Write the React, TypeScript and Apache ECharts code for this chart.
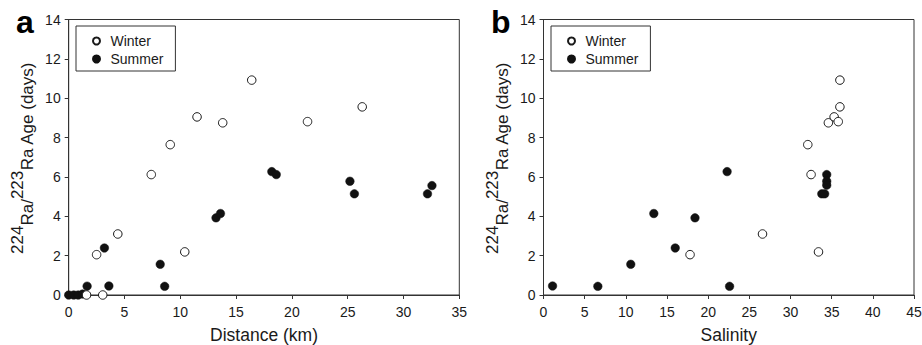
import React, { useEffect, useRef } from "react";
import * as echarts from "echarts";

// Panel a: distance (km) vs age (days)
const winterDistA = [1.6, 3.05, 2.5, 4.4, 7.4, 9.1, 10.4, 11.5, 13.8, 16.4, 21.4, 26.3];
const winterAgeA = [0, 0, 2.05, 3.1, 6.12, 7.64, 2.19, 9.05, 8.75, 10.92, 8.81, 9.56];
const summerDistA = [0, 0.45, 0.85, 1.25, 1.65, 3.2, 3.6, 8.2, 8.6, 13.2, 13.6, 18.2, 18.6, 25.2, 25.6, 32.15, 32.55];
const summerAgeA = [0, 0, 0, 0.05, 0.45, 2.39, 0.46, 1.56, 0.44, 3.92, 4.14, 6.27, 6.12, 5.78, 5.14, 5.14, 5.56];

// Panel b: salinity vs age (days)
const winterSalB = [17.8, 26.6, 32.1, 32.5, 33.4, 34.6, 35.3, 35.8, 36.0, 36.0];
const winterAgeB = [2.05, 3.1, 7.64, 6.12, 2.19, 8.75, 9.05, 8.81, 9.56, 10.92];
const summerSalB = [1.1, 6.6, 10.6, 13.4, 16.0, 18.4, 22.3, 22.6, 33.8, 34.15, 34.4, 34.4, 34.4];
const summerAgeB = [0.46, 0.44, 1.56, 4.14, 2.39, 3.92, 6.27, 0.44, 5.14, 5.14, 6.12, 5.78, 5.58];

const yTicksMax = 14;
const xMaxA = 35;
const xMaxB = 45;

const FONT = "'Liberation Sans', Arial, sans-serif";
const TXT = "#1a1a1a";
const LINE = "#333";

const pairs = (xs: number[], ys: number[]) => xs.map((x, i) => [x, ys[i]]);

export default function App() {
  const ref = useRef<HTMLDivElement>(null);
  useEffect(() => {
    if (!ref.current) return;
    const chart = echarts.init(ref.current, undefined, { renderer: "svg" });
    const axisCommon = {
      axisLine: { show: true, lineStyle: { color: LINE, width: 1 } },
      axisTick: { show: true, inside: false, length: 4, lineStyle: { color: LINE } },
      splitLine: { show: false },
      axisLabel: { color: TXT, fontSize: 14, fontFamily: FONT },
    };
    const xAxis = (gi: number, max: number, name: string) => ({
      ...axisCommon,
      type: "value",
      gridIndex: gi,
      min: 0,
      max,
      interval: 5,
      name,
      nameLocation: "middle",
      nameGap: 31,
      nameTextStyle: { color: TXT, fontSize: 17.5, fontFamily: FONT },
      axisLabel: { ...axisCommon.axisLabel, margin: 10 },
    });
    const yAxis = (gi: number) => ({
      ...axisCommon,
      type: "value",
      gridIndex: gi,
      min: 0,
      max: yTicksMax,
      interval: 2,
      axisLabel: { ...axisCommon.axisLabel, margin: 8 },
    });
    const winterStyle = { color: "#fff", borderColor: "#1a1a1a", borderWidth: 1, opacity: 1 };
    const summerStyle = { color: "#111", borderColor: "#111", borderWidth: 0.5, opacity: 1 };
    const legend = (left: number) => ({
      left,
      top: 26,
      orient: "vertical",
      padding: [8, 12, 5, 16],
      itemGap: 4,
      itemWidth: 14,
      itemHeight: 7,
      borderColor: LINE,
      borderWidth: 1,
      borderRadius: 0,
      data: ["Winter", "Summer"],
      textStyle: { color: TXT, fontSize: 14, fontFamily: FONT, padding: [0, 0, 0, 2] },
    });
    const title = "{s|224}{b|Ra/}{s|223}{b|Ra Age (days)}";
    const rich = {
      s: { fontSize: 17, fontFamily: FONT, verticalAlign: "top", lineHeight: 27, fill: TXT },
      b: { fontSize: 17, fontFamily: FONT, verticalAlign: "bottom", lineHeight: 27, fill: TXT },
    };
    const gridCommon = { show: true, borderColor: LINE, borderWidth: 1, backgroundColor: "transparent", containLabel: false, outerBoundsMode: "none" };
    chart.setOption({
      animation: false,
      backgroundColor: "#fff",
      grid: [
        { ...gridCommon, left: 68.7, top: 19.5, width: 390.6, height: 275.5 },
        { ...gridCommon, left: 543.5, top: 19.5, width: 370.5, height: 275.5 },
      ],
      xAxis: [xAxis(0, xMaxA, "Distance (km)"), xAxis(1, xMaxB, "Salinity")],
      yAxis: [yAxis(0), yAxis(1)],
      legend: [legend(76), legend(551)],
      series: [
        { name: "Winter", type: "scatter", xAxisIndex: 0, yAxisIndex: 0, symbol: "circle", symbolSize: 8.5, itemStyle: winterStyle, data: pairs(winterDistA, winterAgeA), z: 3 },
        { name: "Summer", type: "scatter", xAxisIndex: 0, yAxisIndex: 0, symbol: "circle", symbolSize: 8.5, itemStyle: summerStyle, data: pairs(summerDistA, summerAgeA), z: 2 },
        { name: "Winter", type: "scatter", xAxisIndex: 1, yAxisIndex: 1, symbol: "circle", symbolSize: 8.5, itemStyle: winterStyle, data: pairs(winterSalB, winterAgeB), z: 3 },
        { name: "Summer", type: "scatter", xAxisIndex: 1, yAxisIndex: 1, symbol: "circle", symbolSize: 8.5, itemStyle: summerStyle, data: pairs(summerSalB, summerAgeB), z: 2 },
      ],
      graphic: [
        { type: "text", x: 22, y: 158, rotation: Math.PI / 2, style: { text: title, rich, align: "center", verticalAlign: "middle", fill: TXT, font: `17px ${FONT}` } },
        { type: "text", x: 497, y: 158, rotation: Math.PI / 2, style: { text: title, rich, align: "center", verticalAlign: "middle", fill: TXT, font: `17px ${FONT}` } },
        { type: "text", x: 16, y: 22, style: { text: "a", fill: "#000", font: `bold 32px ${FONT}`, align: "left", verticalAlign: "middle" } },
        { type: "text", x: 491, y: 22, style: { text: "b", fill: "#000", font: `bold 32px ${FONT}`, align: "left", verticalAlign: "middle" } },
      ],
    });
    return () => chart.dispose();
  }, []);
  return <div ref={ref} style={{ position: "fixed", left: 0, top: 0, width: 922, height: 345 }} />;
}
